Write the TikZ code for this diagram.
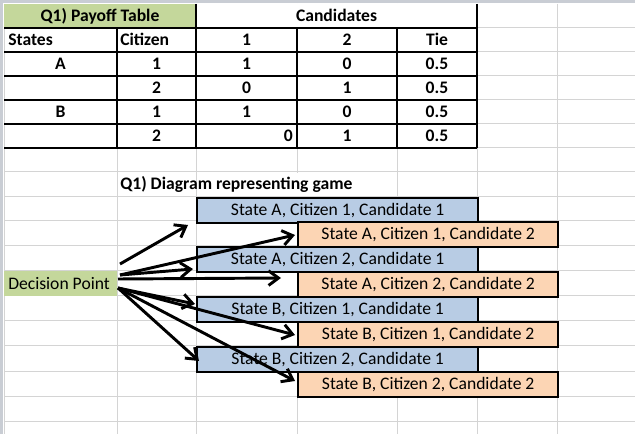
\documentclass[tikz,border=0pt]{standalone}
\usepackage{fontspec}
\setmainfont{Carlito}
\usetikzlibrary{arrows.meta}

\definecolor{cellgreen}{HTML}{C4D79B}
\definecolor{boxblue}{HTML}{B8CCE4}
\definecolor{boxorange}{HTML}{FCD5B4}
\definecolor{gridgrey}{HTML}{D4D4D4}
\definecolor{edgegrey}{HTML}{C9CDD4}

\begin{document}
\begin{tikzpicture}[x=0.75pt,y=-0.75pt,
    every node/.style={font=\fontsize{13.2}{15}\selectfont},
    gridline/.style={draw=gridgrey, line width=0.75pt},
    tabline/.style={draw=black, line width=0.8pt},
    cell/.style={font=\fontsize{13.2}{15}\selectfont\bfseries, anchor=base, inner sep=0pt},
    stbox/.style={draw, line width=1.8pt, inner sep=0pt, minimum height=18.75pt, anchor=north west},
    c1box/.style={stbox, fill=boxblue, minimum width=210.75pt},
    c2box/.style={stbox, fill=boxorange, minimum width=195pt},
    fan/.style={line width=2.2pt, -{Straight Barb[length=7.5pt,width=11pt]}}]
  \useasboundingbox (0,0) rectangle (635,434);

  % sheet grid
  \fill[edgegrey] (0,0) rectangle (635,3);
  \fill[edgegrey] (0,0) rectangle (3,434);
  \foreach \gx in {4,117,196,297,397,477,557}
    \draw[gridline] (\gx,4) -- (\gx,434);
  \foreach \gy in {28,52,76,100,124,148,172,197,221,246,271,296,321,346,371,396,421}
    \draw[gridline] (4,\gy) -- (635,\gy);

  % payoff table
  \fill[cellgreen] (4,4) rectangle (196,28);
  \fill[white] (197,4) rectangle (476,27);
  \foreach \gy in {28,52,76,100,124,148}
    \draw[tabline] (4,\gy) -- (477,\gy);
  \draw[tabline] (196,4) -- (196,148);
  \draw[tabline] (477,4) -- (477,148);
  \foreach \gx in {117,297,397}
    \draw[tabline] (\gx,28) -- (\gx,148);

  \node[cell] (PtTitle) at (100,22) {Q1) Payoff Table};
  \node[cell] (PtCand) at (336.5,22) {Candidates};
  \node[cell, anchor=base west] (PtStates) at (8,46) {States};
  \node[cell, anchor=base west] (PtCitizen) at (120,46) {Citizen};
  \node[cell] (PtHdOne) at (246.5,46) {1};
  \node[cell] (PtHdTwo) at (347,46) {2};
  \node[cell] (PtHdTie) at (437,46) {Tie};

  \node[cell] (PtStA) at (60.5,70) {A};
  \node[cell] (PtAcOne) at (156.5,70) {1};
  \node[cell] (PtAcOneA) at (246.5,70) {1};
  \node[cell] (PtAcOneB) at (347,70) {0};
  \node[cell] (PtAcOneT) at (437,70) {0.5};

  \node[cell] (PtAcTwo) at (156.5,94) {2};
  \node[cell] (PtAcTwoA) at (246.5,94) {0};
  \node[cell] (PtAcTwoB) at (347,94) {1};
  \node[cell] (PtAcTwoT) at (437,94) {0.5};

  \node[cell] (PtStB) at (60.5,118) {B};
  \node[cell] (PtBcOne) at (156.5,118) {1};
  \node[cell] (PtBcOneA) at (246.5,118) {1};
  \node[cell] (PtBcOneB) at (347,118) {0};
  \node[cell] (PtBcOneT) at (437,118) {0.5};

  \node[cell] (PtBcTwo) at (156.5,142) {2};
  \node[cell, anchor=base east] (PtBcTwoA) at (293,142) {0};
  \node[cell] (PtBcTwoB) at (347,142) {1};
  \node[cell] (PtBcTwoT) at (437,142) {0.5};

  % game diagram
  \fill[white] (197,173) rectangle (396,196);
  \node[cell, anchor=base west] (GmTitle) at (120,190) {Q1) Diagram representing game};

  \fill[cellgreen] (4,271) rectangle (117,296);
  \node[anchor=base west, inner sep=0pt] (DecPt) at (8,290) {Decision Point};

  \node[c1box] (SaCaCa) at (196,197) {State A, Citizen 1, Candidate 1};
  \node[c2box] (SaCaCb) at (297,221) {State A, Citizen 1, Candidate 2};
  \node[c1box] (SaCbCa) at (196,246) {State A, Citizen 2, Candidate 1};
  \node[c2box] (SaCbCb) at (297,271) {State A, Citizen 2, Candidate 2};
  \node[c1box] (SbCaCa) at (196,296) {State B, Citizen 1, Candidate 1};
  \node[c2box] (SbCaCb) at (297,321) {State B, Citizen 1, Candidate 2};
  \node[c1box] (SbCbCa) at (196,346) {State B, Citizen 2, Candidate 1};
  \node[c2box] (SbCbCb) at (297,371) {State B, Citizen 2, Candidate 2};

  \coordinate (DpTop) at (120,264);
  \coordinate (DpUp) at (120,275);
  \coordinate (DpMid) at (118,279);
  \coordinate (DpLow) at (118,288);
  \coordinate (ToSaCaCa) at (188,225);
  \coordinate (ToSaCaCb) at (295,235);
  \coordinate (ToSaCbCa) at (193,269);
  \coordinate (ToSaCbCb) at (281,278);
  \coordinate (ToSbCaCa) at (195,304);
  \coordinate (ToSbCaCb) at (295,335);
  \coordinate (ToSbCbCa) at (199,361);
  \coordinate (ToSbCbCb) at (295,381);

  \draw[fan] (DpTop) -- (ToSaCaCa);
  \draw[fan] (DpUp) -- (ToSaCaCb);
  \draw[fan] (DpUp) -- (ToSaCbCa);
  \draw[fan] (DpMid) -- (ToSaCbCb);
  \draw[fan] (DpLow) -- (ToSbCaCa);
  \draw[fan] (DpLow) -- (ToSbCaCb);
  \draw[fan] (DpLow) -- (ToSbCbCa);
  \draw[fan] (DpLow) -- (ToSbCbCb);
\end{tikzpicture}
\end{document}
